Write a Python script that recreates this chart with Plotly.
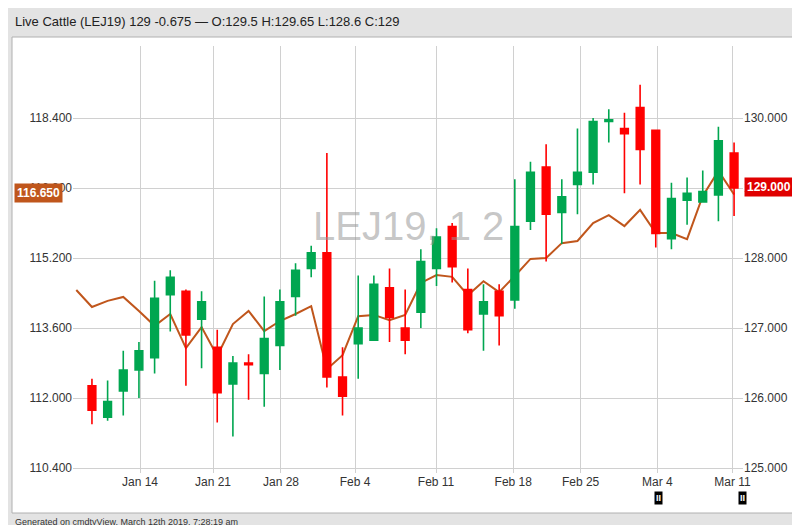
import plotly.graph_objects as go

idx = list(range(42))
opens  = [126.175,125.725,126.1,126.4,126.575,127.475,127.525,127.125,126.725,126.2,126.5,126.35,126.75,127.45,127.85,128.075,126.3,126.775,126.825,127.575,127.0,127.225,127.85,128.45,127.55,127.2,127.525,127.4,128.525,129.3,128.65,129.05,129.225,129.95,129.85,130.15,129.825,128.275,128.825,128.8,128.9,129.5]
highs  = [126.275,126.25,126.675,126.8,127.675,127.825,127.55,127.525,126.975,126.6,126.625,127.45,127.55,127.925,128.175,129.5,126.725,127.75,127.75,127.85,127.55,128.125,128.425,128.5,127.85,127.625,127.625,129.125,129.375,129.625,129.125,129.85,130.0,130.125,130.075,130.475,129.825,129.075,129.15,129.25,129.875,129.65]
lows   = [125.625,125.675,125.75,126.0,126.35,126.95,126.175,126.425,125.65,125.45,125.975,125.875,126.4,127.175,127.725,126.15,125.75,126.275,126.825,126.8,126.625,127.0,127.6,127.65,126.925,126.675,126.75,127.275,128.4,127.95,128.2,128.625,129.05,129.65,128.925,129.05,128.15,128.125,128.475,128.8,128.525,128.6]
closes = [125.825,125.95,126.4,126.675,127.425,127.725,126.9,127.375,126.075,126.5,126.475,126.85,127.375,127.825,128.075,126.3,126.025,127.0,127.625,127.15,126.825,127.95,128.3,127.875,126.975,127.375,127.175,128.45,129.225,128.625,128.875,129.225,129.95,129.975,129.775,129.55,128.35,128.85,128.925,128.95,129.675,129.0]

line_idx = list(range(-1, 42))
line_vals = [114.47,114.08,114.22,114.31,113.99,113.65,113.92,113.14,113.62,112.96,113.69,113.99,113.53,113.76,113.92,114.10,112.66,112.98,113.87,113.90,113.78,113.90,114.63,114.81,114.77,114.35,114.67,114.42,114.79,115.18,115.20,115.54,115.59,116.00,116.18,115.93,116.30,115.77,115.77,115.63,116.62,117.19,116.65]

tick_pos = [3.07,7.73,12.07,16.8,21.97,26.9,31.2,36.1,40.9]
tick_text = ["Jan 14","Jan 21","Jan 28","Feb 4","Feb 11","Feb 18","Feb 25","Mar 4","Mar 11"]
left_ticks = [110.4,112.0,113.6,115.2,116.8,118.4]
right_ticks = [125,126,127,128,129,130]

GREEN = "#00a650"; RED = "#ff0000"; ORANGE = "#c0561c"
FONT = "Liberation Sans"

fig = go.Figure()
fig.add_trace(go.Candlestick(x=idx, open=opens, high=highs, low=lows, close=closes,
    increasing=dict(line=dict(color=GREEN, width=1.6), fillcolor=GREEN),
    decreasing=dict(line=dict(color=RED, width=1.6), fillcolor=RED),
    whiskerwidth=0, yaxis="y2", showlegend=False, hoverinfo="skip"))
fig.add_trace(go.Scatter(x=line_idx, y=line_vals, mode="lines",
    line=dict(color=ORANGE, width=2), showlegend=False, yaxis="y", hoverinfo="skip"))

h = 465 - 38
fig.update_layout(
    width=800, height=525,
    margin=dict(l=65, r=65, t=38, b=60, autoexpand=False),
    paper_bgcolor="#e3e3e3", plot_bgcolor="white",
    font=dict(family=FONT, size=12, color="#333"),
    xaxis=dict(range=[-1.21, 41.57], tickvals=tick_pos, ticktext=tick_text, automargin=False,
               showgrid=True, gridcolor="#d0d0d0", zeroline=False, showline=False,
               rangeslider=dict(visible=False), ticks="", ticklen=0),
    yaxis=dict(range=[110.286, 120.046], tickvals=left_ticks, tickformat=".3f", automargin=False,
               showgrid=True, gridcolor="#d0d0d0", zeroline=False, side="left"),
    yaxis2=dict(range=[124.929, 131.029], tickvals=right_ticks, tickformat=".3f", automargin=False,
                overlaying="y", side="right", showgrid=False, zeroline=False),
    shapes=[dict(type="rect", xref="paper", yref="paper", layer="below",
                 x0=(4-65)/670, x1=(795-65)/670, y0=(465-505)/h, y1=(465-29)/h,
                 fillcolor="white", line=dict(color="#b0b0b0", width=1))],
)

ann = [
    dict(text="Live Cattle (LEJ19) 129 -0.675 — O:129.5 H:129.65 L:128.6 C:129",
         x=(5-65)/670, y=(465-14)/h, xanchor="left", yanchor="middle", font=dict(size=13, color="#222")),
    dict(text="Generated on cmdtyView, March 12th 2019, 7:28:19 am",
         x=(5-65)/670, y=(465-514)/h, xanchor="left", yanchor="middle", font=dict(size=9, color="#333")),
    dict(text="LEJ19, 1 2", x=(400-65)/670, y=(465-218)/h, xanchor="center", yanchor="middle",
         font=dict(size=40, color="rgba(150,150,150,0.55)")),
    dict(text="<b>116.650</b>", x=(6-65)/670, y=(465-185)/h, xanchor="left", yanchor="middle",
         bgcolor=ORANGE, font=dict(size=12, color="white"), borderpad=2),
    dict(text="<b>129.000</b>", x=(736-65)/670, y=(465-179)/h, xanchor="left", yanchor="middle",
         bgcolor="#e00000", font=dict(size=12, color="white"), borderpad=2),
]
for xp in (650, 734):
    ann.append(dict(text="<b>II</b>", x=(xp-65)/670, y=(465-490)/h, xanchor="center", yanchor="middle",
                    bgcolor="black", font=dict(size=9, color="white"), borderpad=1))
for a in ann:
    a.update(xref="paper", yref="paper", showarrow=False)
fig.update_layout(annotations=ann)

fig.write_html("out.html")
